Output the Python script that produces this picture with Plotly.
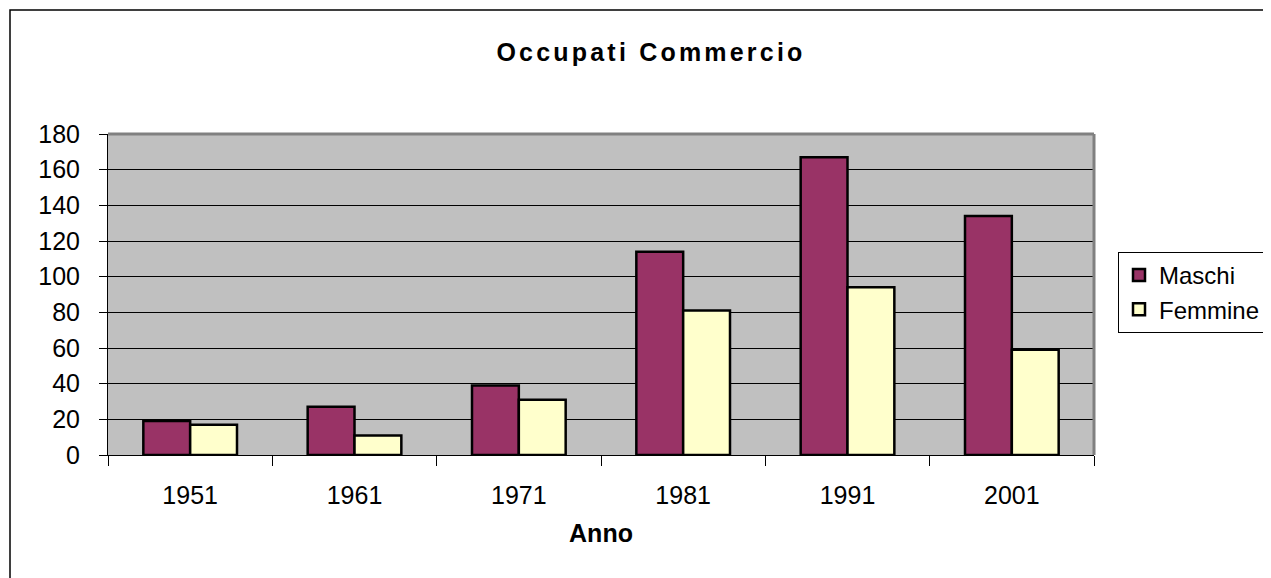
import plotly.graph_objects as go

anni = ["1951", "1961", "1971", "1981", "1991", "2001"]
maschi = [19, 27, 39, 114, 167, 134]
femmine = [17, 11, 31, 81, 94, 59]

FONT = "Liberation Sans, Arial, sans-serif"

fig = go.Figure()
fig.add_trace(go.Bar(x=anni, y=maschi, name="Maschi",
                     marker=dict(color="#993366", line=dict(color="black", width=2.5))))
fig.add_trace(go.Bar(x=anni, y=femmine, name="Femmine",
                     marker=dict(color="#FFFFCC", line=dict(color="black", width=2.5))))

# page is rendered with an 8px body margin; work in page pixels then offset
OFF = 8
L, R, T, B = 108, 1094, 134, 455
W, H = 1271 - OFF, 578 - OFF

fig.update_layout(
    width=W, height=H,
    margin=dict(l=L - OFF, r=W - (R - OFF), t=T - OFF, b=H - (B - OFF), autoexpand=False),
    paper_bgcolor="white",
    plot_bgcolor="#C0C0C0",
    barmode="group", bargap=0.43, bargroupgap=0,
    font=dict(family=FONT, color="black", size=25),
    title=dict(text='<span style="letter-spacing:3.2px">Occupati Commercio</span>',
               x=(651 - L) / (R - L), xref="paper", xanchor="center",
               y=1 - (52 - OFF) / H, yref="container", yanchor="middle",
               font=dict(family=FONT, size=25, color="black", weight="bold")),
    legend=dict(x=(1118 - L) / (R - L), xanchor="left",
                y=(B - 252) / (B - T), yanchor="top",
                bordercolor="black", borderwidth=1, bgcolor="white",
                font=dict(family=FONT, size=24, color="black")),
    showlegend=True,
)

fig.update_xaxes(
    type="category", showline=True, linecolor="black", linewidth=1,
    ticks="outside", tickson="boundaries", ticklen=10, tickcolor="black", tickwidth=1,
    tickfont=dict(family=FONT, size=25, color="black"), ticklabelstandoff=18,
    title=dict(text="<b>Anno</b>", standoff=16, font=dict(family=FONT, size=25, color="black")),
    showgrid=False,
)
fig.update_yaxes(
    range=[0, 180], dtick=20, showline=True, linecolor="black", linewidth=1,
    ticks="outside", ticklen=8, tickcolor="black", tickwidth=1,
    tickfont=dict(family=FONT, size=25, color="black"), ticklabelstandoff=14,
    showgrid=True, gridcolor="black", gridwidth=1, zeroline=False,
)

# plot area border (gray, top and right)
fig.add_shape(type="line", xref="paper", yref="paper", x0=0, x1=1, y0=1, y1=1,
              line=dict(color="#808080", width=3), layer="above")
fig.add_shape(type="line", xref="paper", yref="paper", x0=1, x1=1, y0=0, y1=1,
              line=dict(color="#808080", width=3), layer="above")
# outer chart frame
fig.add_shape(type="rect", xref="paper", yref="paper",
              x0=(10 - L) / (R - L), x1=3, y0=-3, y1=(B - 10) / (B - T),
              line=dict(color="black", width=1.5), fillcolor="rgba(0,0,0,0)", layer="below")

fig.write_html("out.html")
